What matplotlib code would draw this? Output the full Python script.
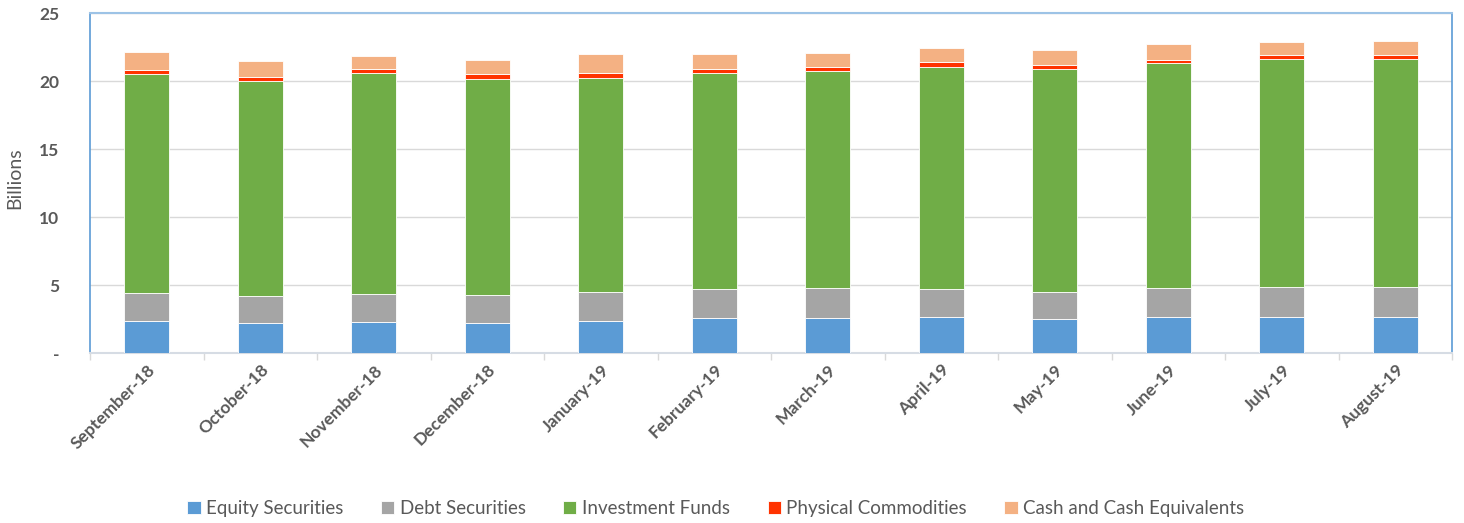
import matplotlib
matplotlib.use("Agg")
import matplotlib.pyplot as plt
import numpy as np

months = ["September-18", "October-18", "November-18", "December-18", "January-19",
          "February-19", "March-19", "April-19", "May-19", "June-19", "July-19", "August-19"]
equity = [2.38, 2.21, 2.28, 2.21, 2.35, 2.62, 2.62, 2.67, 2.50, 2.70, 2.67, 2.70]
debt = [2.03, 2.01, 2.06, 2.08, 2.14, 2.11, 2.18, 2.06, 1.99, 2.10, 2.21, 2.18]
funds = [16.10, 15.80, 16.25, 15.88, 15.78, 15.86, 15.96, 16.35, 16.42, 16.52, 16.79, 16.74]
commod = [0.32, 0.32, 0.32, 0.37, 0.32, 0.29, 0.32, 0.32, 0.32, 0.25, 0.27, 0.32]
cash = [1.33, 1.18, 0.93, 1.05, 1.42, 1.13, 1.00, 1.03, 1.07, 1.18, 0.95, 1.05]
series_names = ["Equity Securities", "Debt Securities", "Investment Funds",
                "Physical Commodities", "Cash and Cash Equivalents"]
colors = ["#5B9BD5", "#A5A5A5", "#70AD47", "#FF3300", "#F4B183"]
yticks = [0, 5, 10, 15, 20, 25]
ytick_labels = ["-", "5", "10", "15", "20", "25"]

plt.rcParams['font.family'] = ['Lato', 'DejaVu Sans']

fig = plt.figure(figsize=(14.64, 5.23), dpi=100)
ax = fig.add_axes([90/1464, 1-353.3/523, (1452-90)/1464, (353.3-13.3)/523])

x = np.arange(len(months))
bottom = np.zeros(len(months))
for name, vals, c in zip(series_names, [equity, debt, funds, commod, cash], colors):
    ax.bar(x, vals, width=0.40, bottom=bottom, color=c, edgecolor="white",
           linewidth=0.6, label=name, zorder=3)
    bottom += np.array(vals)

ax.set_xlim(-0.5, len(months) - 0.5)
ax.set_ylim(0, 25)
ax.set_yticks(yticks)
ax.set_yticklabels(ytick_labels, fontsize=12.5, fontweight="bold", color="#595959")
ax.tick_params(axis="y", length=0, pad=22)
ax.yaxis.grid(True, color="#D9D9D9", linewidth=1, zorder=0)

ax.set_xticks(x)
ax.set_xticklabels(months, rotation=45, ha="right", rotation_mode="anchor",
                   fontsize=12.5, fontweight="bold", color="#595959")
ax.tick_params(axis="x", length=0, pad=6)
ax.set_xticks(np.arange(-0.5, len(months)), minor=True)
ax.tick_params(axis="x", which="minor", length=5, color="#D9D9D9", width=1)

fig.text(15/1464, 1-178/523, "Billions", rotation=90, ha="center", va="center",
         fontsize=14, color="#595959")

for side in ["left", "right"]:
    ax.spines[side].set_color("#5B9BD5")
    ax.spines[side].set_linewidth(1.2)
ax.spines["top"].set_color("#9DC3E6")
ax.spines["top"].set_linewidth(1.5)
ax.spines["bottom"].set_color("#D6DCE4")
ax.spines["bottom"].set_linewidth(1.5)

fig.legend(loc="center", bbox_to_anchor=(0.489, 0.027), ncol=5, frameon=False,
           fontsize=13.5, handlelength=0.7, handleheight=0.7, handletextpad=0.3,
           columnspacing=2.0, labelcolor="#595959")

fig.savefig("out.png", dpi=100)
